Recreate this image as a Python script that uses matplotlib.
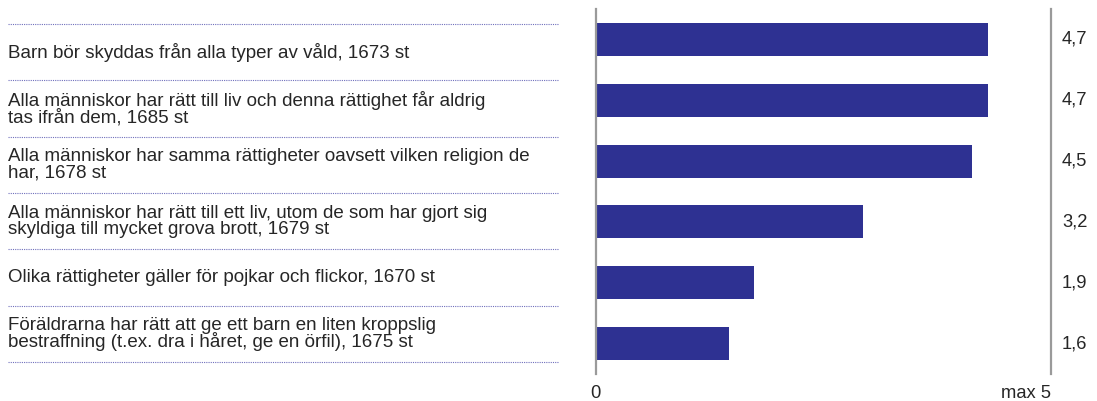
import matplotlib
matplotlib.use("Agg")
import matplotlib.pyplot as plt

# ---- data ----
categories = [
    "Barn bör skyddas från alla typer av våld, 1673 st",
    "Alla människor har rätt till liv och denna rättighet får aldrig\ntas ifrån dem, 1685 st",
    "Alla människor har samma rättigheter oavsett vilken religion de\nhar, 1678 st",
    "Alla människor har rätt till ett liv, utom de som har gjort sig\nskyldiga till mycket grova brott, 1679 st",
    "Olika rättigheter gäller för pojkar och flickor, 1670 st",
    "Föräldrarna har rätt att ge ett barn en liten kroppslig\nbestraffning (t.ex. dra i håret, ge en örfil), 1675 st",
]
values = [4.7, 4.7, 4.5, 3.2, 1.9, 1.6]
value_labels = ["4,7", "4,7", "4,5", "3,2", "1,9", "1,6"]
tick_labels = ["0", "max 5"]

# ---- style ----
W, H = 1097, 401
BAR_COLOR = "#2E3192"
TEXT_COLOR = "#262626"
AXIS_COLOR = "#9A9A9A"
SEP_COLOR = "#7070BC"
FONT = "Liberation Sans"
FS_LAB = 13.5
FS_VAL = 13.2
XMAX = 5.45

plt.rcParams["font.family"] = [FONT, "DejaVu Sans"]

fig = plt.figure(figsize=(W / 100, H / 100), dpi=100)

# overlay axes in pixel coordinates for the label table
ov = fig.add_axes([0, 0, 1, 1])
ov.set_xlim(0, W)
ov.set_ylim(H, 0)
ov.axis("off")

sep_top, row_h = 24.0, 56.33
n = len(categories)
for k in range(n + 1):
    y = sep_top + k * row_h
    ov.plot([8, 558], [y, y], color=SEP_COLOR, lw=0.8, linestyle=(0, (1, 1)))
for i, lab in enumerate(categories):
    yc = sep_top + (i + 0.5) * row_h
    ov.text(8, yc, lab, ha="left", va="center", fontsize=FS_LAB, color=TEXT_COLOR,
            linespacing=0.9)

# bar axes
x0, x1 = 595.6, 1051.0
y_top, y_bot = 9.0, 374.0
ax = fig.add_axes([x0 / W, 1 - y_bot / H, (x1 - x0) / W, (y_bot - y_top) / H])
pos = list(range(n))
ax.barh(pos, values, height=0.54, color=BAR_COLOR)
ax.set_ylim(n - 0.5, -0.5)
ax.set_xlim(0, XMAX)
for s in ["top", "bottom"]:
    ax.spines[s].set_visible(False)
for s in ["left", "right"]:
    ax.spines[s].set_color(AXIS_COLOR)
    ax.spines[s].set_linewidth(1.6)
ax.set_yticks([])
ax.set_xticks([0, XMAX])
ax.set_xticklabels(tick_labels, fontsize=FS_VAL, color=TEXT_COLOR)
ax.tick_params(axis="x", length=0, pad=8)
ax.get_xticklabels()[1].set_ha("right")
ax.set_facecolor("none")

for i, vl in enumerate(value_labels):
    ax.text(1 + 11 / (x1 - x0), i, vl, transform=ax.get_yaxis_transform(),
            ha="left", va="center", fontsize=FS_VAL, color=TEXT_COLOR)

fig.savefig("out.png", dpi=100)
